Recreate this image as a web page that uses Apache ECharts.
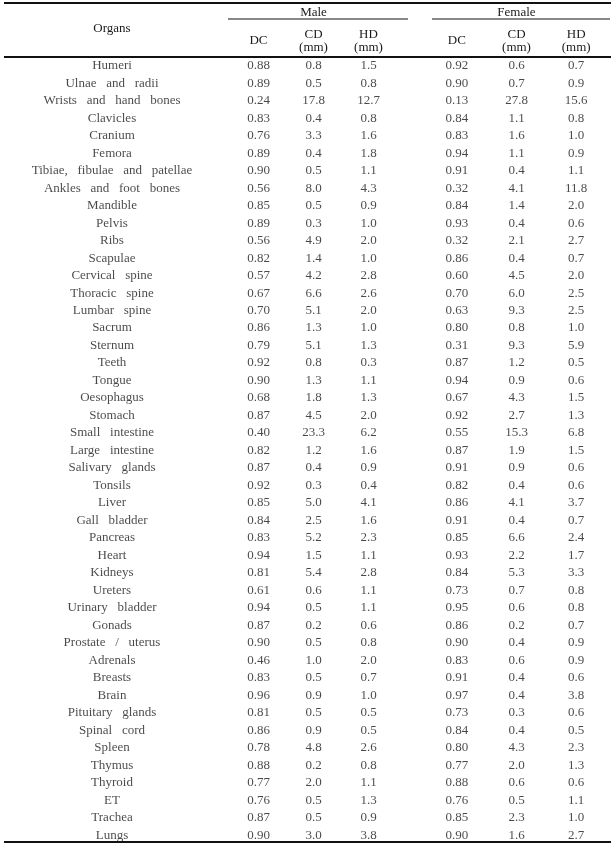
<!DOCTYPE html>
<html>
<head>
<meta charset="utf-8">
<script src="https://cdn.jsdelivr.net/npm/echarts@6/dist/echarts.min.js"></script>
<style>
  html, body { margin: 0; padding: 0; background: #fff; }
  #main { width: 615px; height: 844px; }
</style>
</head>
<body>
<div id="main"></div>
<script>
// table rows
const organs = ['Humeri', 'Ulnae and radii', 'Wrists and hand bones', 'Clavicles', 'Cranium', 'Femora',
  'Tibiae, fibulae and patellae', 'Ankles and foot bones', 'Mandible', 'Pelvis', 'Ribs', 'Scapulae',
  'Cervical spine', 'Thoracic spine', 'Lumbar spine', 'Sacrum', 'Sternum', 'Teeth', 'Tongue', 'Oesophagus',
  'Stomach', 'Small intestine', 'Large intestine', 'Salivary glands', 'Tonsils', 'Liver', 'Gall bladder',
  'Pancreas', 'Heart', 'Kidneys', 'Ureters', 'Urinary bladder', 'Gonads', 'Prostate / uterus', 'Adrenals',
  'Breasts', 'Brain', 'Pituitary glands', 'Spinal cord', 'Spleen', 'Thymus', 'Thyroid', 'ET', 'Trachea', 'Lungs'];

const metricCols = ['DC', 'CD\n(mm)', 'HD\n(mm)'];

const maleDC = [0.88, 0.89, 0.24, 0.83, 0.76, 0.89, 0.90, 0.56, 0.85, 0.89, 0.56, 0.82, 0.57, 0.67, 0.70, 0.86,
  0.79, 0.92, 0.90, 0.68, 0.87, 0.40, 0.82, 0.87, 0.92, 0.85, 0.84, 0.83, 0.94, 0.81, 0.61, 0.94, 0.87, 0.90,
  0.46, 0.83, 0.96, 0.81, 0.86, 0.78, 0.88, 0.77, 0.76, 0.87, 0.90];
const maleCD = [0.8, 0.5, 17.8, 0.4, 3.3, 0.4, 0.5, 8.0, 0.5, 0.3, 4.9, 1.4, 4.2, 6.6, 5.1, 1.3, 5.1, 0.8, 1.3,
  1.8, 4.5, 23.3, 1.2, 0.4, 0.3, 5.0, 2.5, 5.2, 1.5, 5.4, 0.6, 0.5, 0.2, 0.5, 1.0, 0.5, 0.9, 0.5, 0.9, 4.8,
  0.2, 2.0, 0.5, 0.5, 3.0];
const maleHD = [1.5, 0.8, 12.7, 0.8, 1.6, 1.8, 1.1, 4.3, 0.9, 1.0, 2.0, 1.0, 2.8, 2.6, 2.0, 1.0, 1.3, 0.3, 1.1,
  1.3, 2.0, 6.2, 1.6, 0.9, 0.4, 4.1, 1.6, 2.3, 1.1, 2.8, 1.1, 1.1, 0.6, 0.8, 2.0, 0.7, 1.0, 0.5, 0.5, 2.6,
  0.8, 1.1, 1.3, 0.9, 3.8];

const femaleDC = [0.92, 0.90, 0.13, 0.84, 0.83, 0.94, 0.91, 0.32, 0.84, 0.93, 0.32, 0.86, 0.60, 0.70, 0.63, 0.80,
  0.31, 0.87, 0.94, 0.67, 0.92, 0.55, 0.87, 0.91, 0.82, 0.86, 0.91, 0.85, 0.93, 0.84, 0.73, 0.95, 0.86, 0.90,
  0.83, 0.91, 0.97, 0.73, 0.84, 0.80, 0.77, 0.88, 0.76, 0.85, 0.90];
const femaleCD = [0.6, 0.7, 27.8, 1.1, 1.6, 1.1, 0.4, 4.1, 1.4, 0.4, 2.1, 0.4, 4.5, 6.0, 9.3, 0.8, 9.3, 1.2, 0.9,
  4.3, 2.7, 15.3, 1.9, 0.9, 0.4, 4.1, 0.4, 6.6, 2.2, 5.3, 0.7, 0.6, 0.2, 0.4, 0.6, 0.4, 0.4, 0.3, 0.4, 4.3,
  2.0, 0.6, 0.5, 2.3, 1.6];
const femaleHD = [0.7, 0.9, 15.6, 0.8, 1.0, 0.9, 1.1, 11.8, 2.0, 0.6, 2.7, 0.7, 2.0, 2.5, 2.5, 1.0, 5.9, 0.5, 0.6,
  1.5, 1.3, 6.8, 1.5, 0.6, 0.6, 3.7, 0.7, 2.4, 1.7, 3.3, 0.8, 0.8, 0.7, 0.9, 0.9, 0.6, 3.8, 0.6, 0.5, 2.3,
  1.3, 0.6, 1.1, 1.0, 2.7];

const FONT = 'Liberation Serif';
const INK = '#1a1a1a';

let chart = echarts.init(document.getElementById('main'));

// one grid per column block: organs, male, female
const grids = [
  { left: 5, width: 214, top: 57, bottom: 0, outerBoundsMode: 'none' },
  { left: 231, width: 165, top: 57, bottom: 0, outerBoundsMode: 'none' },
  { left: 427, width: 179, top: 57, bottom: 0, outerBoundsMode: 'none' }
];

function headAxis(gridIndex, cats, name, margin) {
  return {
    type: 'category', gridIndex: gridIndex, position: 'top', data: cats,
    name: name, nameLocation: 'middle', nameGap: 38,
    nameTextStyle: { fontFamily: FONT, fontSize: 13, color: INK },
    axisLine: { show: false }, axisTick: { show: false }, splitLine: { show: false },
    axisLabel: {
      interval: 0, margin: margin, verticalAlign: 'middle', lineHeight: 13,
      fontFamily: FONT, fontSize: 13, color: INK
    }
  };
}

function rowAxis(gridIndex) {
  return {
    type: 'category', gridIndex: gridIndex, inverse: true, data: organs, show: false
  };
}

// a text-only cell series
function cellSeries(name, gridIndex, col, values, fmt) {
  return {
    name: name, type: 'scatter', xAxisIndex: gridIndex, yAxisIndex: gridIndex,
    symbolSize: 0, silent: true,
    data: values.map((v, i) => [col, i, v]),
    label: {
      show: true, position: 'inside', fontFamily: FONT, fontSize: 13, color: INK,
      formatter: p => fmt(p.value[2])
    }
  };
}

const dc = v => v.toFixed(2);
const mm = v => v.toFixed(1);
// the source typesetting puts wide gaps between words
const wide = s => s.split(' ').join('   ');

chart.setOption({
  backgroundColor: '#fff',
  animation: false,
  grid: grids,
  xAxis: [
    headAxis(0, ['Organs'], '', 28),
    headAxis(1, metricCols, 'Male', 16),
    headAxis(2, metricCols, 'Female', 16)
  ],
  yAxis: [rowAxis(0), rowAxis(1), rowAxis(2)],
  series: [
    cellSeries('Organs', 0, 0, organs, wide),
    cellSeries('Male DC', 1, 0, maleDC, dc),
    cellSeries('Male CD', 1, 1, maleCD, mm),
    cellSeries('Male HD', 1, 2, maleHD, mm),
    cellSeries('Female DC', 2, 0, femaleDC, dc),
    cellSeries('Female CD', 2, 1, femaleCD, mm),
    cellSeries('Female HD', 2, 2, femaleHD, mm)
  ],
  // table rules
  graphic: [
    { type: 'line', shape: { x1: 4, y1: 3, x2: 611, y2: 3 }, style: { stroke: '#111', lineWidth: 2 } },
    { type: 'line', shape: { x1: 228, y1: 19, x2: 408, y2: 19 }, style: { stroke: '#111', lineWidth: 1 } },
    { type: 'line', shape: { x1: 432, y1: 19, x2: 610, y2: 19 }, style: { stroke: '#111', lineWidth: 1 } },
    { type: 'line', shape: { x1: 4, y1: 57, x2: 611, y2: 57 }, style: { stroke: '#111', lineWidth: 2 } },
    { type: 'line', shape: { x1: 4, y1: 842, x2: 611, y2: 842 }, style: { stroke: '#111', lineWidth: 2 } }
  ]
});

window.onresize = chart.resize;
</script>
</body>
</html>
